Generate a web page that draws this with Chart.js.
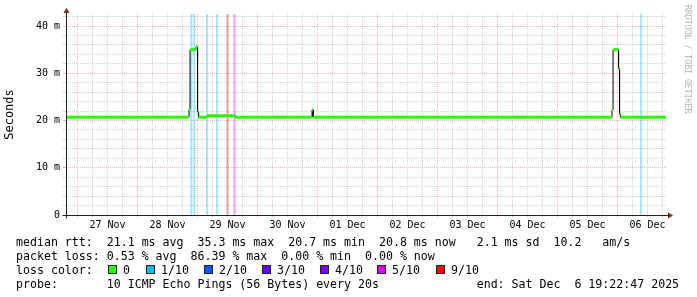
<!DOCTYPE html>
<html>
<head>
<meta charset="utf-8">
<script src="https://cdn.jsdelivr.net/npm/chart.js@4.4.0/dist/chart.umd.min.js"></script>
<style>
  html, body { margin: 0; padding: 0; background: #fff; }
  #wrap { position: relative; width: 697px; height: 297px; overflow: hidden; background: #fff; }
  #graph { position: absolute; left: 0; top: 0; }
  .row { position: absolute; left: 16px; font: 11.6px "DejaVu Sans Mono", monospace; color: #000; white-space: pre; line-height: 14px; }
  .box { position: absolute; width: 9px; height: 9px; box-sizing: border-box; border: 1px solid #222; }
  .lbl { position: absolute; font: 11.6px "DejaVu Sans Mono", monospace; line-height: 14px; white-space: pre; }
  #mark { position: absolute; left: 683px; top: 5px; writing-mode: vertical-rl; font: 8.2px "DejaVu Sans Mono", monospace; color: #b4b4b4; white-space: pre; }
</style>
</head>
<body>
<div id="wrap">
  <canvas id="graph" width="697" height="297"></canvas>
  <div id="mark">RRDTOOL / TOBI OETIKER</div>
  <div class="row" style="top:235px">median rtt:  21.1 ms avg  35.3 ms max  20.7 ms min  20.8 ms now   2.1 ms sd  10.2   am/s</div>
  <div class="row" style="top:249px">packet loss: 0.53 % avg  86.39 % max  0.00 % min  0.00 % now</div>
  <div class="row" style="top:263px">loss color:</div>
  <div class="row" style="top:277px">probe:       10 ICMP Echo Pings (56 Bytes) every 20s              end: Sat Dec  6 19:22:47 2025</div>
</div>
<script>
// time axis is in hours counted from 26 Nov 00:00
const startHour = 19.38;   // 26 Nov 19:22:47
const endHour = 259.38;    // 06 Dec 19:22:47
const yMaxMs = 42.54;

const dayLabels = ['27 Nov', '28 Nov', '29 Nov', '30 Nov', '01 Dec', '02 Dec', '03 Dec', '04 Dec', '05 Dec', '06 Dec'];

// median rtt as steps: level starts at medianStart[i] and holds until the next one
const medianStart = [19.38, 68.6, 69.0, 71.4, 72.0, 72.4, 75.8, 87.2, 117.8, 118.2, 237.8, 238.2, 240.4, 240.8, 241.2];
const medianMs    = [20.7,  22.3, 35.0, 35.6, 21.8, 20.7, 21.0, 20.7, 22.3,  20.7,  22.2,  35.0,  31.0,  21.3,  20.7];

// samples with packet loss (loss in tenths)
const lossHours = [69.5, 70.7, 75.8, 79.8, 84.0, 86.8, 249.4];
const lossLevel = [1, 1, 1, 1, 9, 5, 1];

const legendLabels = ['0', '1/10', '2/10', '3/10', '4/10', '5/10', '9/10'];
const legendLevels = [0, 1, 2, 3, 4, 5, 9];
const lossColors = {0: '#26ff00', 1: '#00b8ff', 2: '#0059ff', 3: '#5e00ff', 4: '#7e00ff', 5: '#dd00ff', 9: '#ff0000'};

function hexAlpha(hex, a) {
    const n = parseInt(hex.slice(1), 16);
    return `rgba(${n >> 16}, ${(n >> 8) & 255}, ${n & 255}, ${a})`;
}

// step outline (black) and flat median pieces (green)
const outline = [];
const flats = [];
medianStart.forEach((t, i) => {
    const next = i < medianStart.length - 1 ? medianStart[i + 1] : endHour;
    outline.push({x: t, y: medianMs[i]}, {x: next, y: medianMs[i]});
    flats.push({x: t, y: medianMs[i]}, {x: next, y: medianMs[i]}, {x: next, y: null});
});

const lossBars = lossHours.map((h) => ({x: h, y: [0, yMaxMs]}));

const GRID = 'rgba(150, 150, 150, 0.42)';
const MGRID = 'rgba(222, 79, 79, 0.42)';
const FONT = 'DejaVu Sans Mono';

const axisArrows = {
    id: 'axisArrows',
    afterDraw(chart) {
        const {ctx, chartArea: a} = chart;
        const x0 = Math.round(a.left) + 0.5;
        const y0 = Math.round(a.bottom) + 0.5;
        ctx.save();
        ctx.strokeStyle = '#1f1f1f';
        ctx.lineWidth = 1;
        ctx.beginPath();
        ctx.moveTo(x0, y0 + 3);
        ctx.lineTo(x0, a.top - 1);
        ctx.moveTo(x0 - 4, y0);
        ctx.lineTo(a.right + 3, y0);
        ctx.stroke();
        ctx.fillStyle = '#801f1f';
        ctx.beginPath();
        ctx.moveTo(x0 - 3, a.top - 1);
        ctx.lineTo(x0 + 3, a.top - 1);
        ctx.lineTo(x0, a.top - 6);
        ctx.closePath();
        ctx.fill();
        ctx.beginPath();
        ctx.moveTo(a.right + 2, y0 - 3);
        ctx.lineTo(a.right + 2, y0 + 3);
        ctx.lineTo(a.right + 7, y0);
        ctx.closePath();
        ctx.fill();
        ctx.restore();
    }
};

new Chart(document.getElementById('graph'), {
    type: 'line',
    data: {
        datasets: [{
            data: flats,
            borderColor: lossColors[0],
            borderWidth: 3,
            borderCapStyle: 'butt',
            pointRadius: 0,
            spanGaps: false,
            order: 0
        }, {
            data: outline,
            borderColor: '#000',
            borderWidth: 1,
            pointRadius: 0,
            order: 1
        }, {
            type: 'bar',
            data: lossBars,
            backgroundColor: lossLevel.map((l) => hexAlpha(lossColors[l], 0.35)),
            borderWidth: 0,
            barThickness: 1.5,
            order: 2
        }]
    },
    options: {
        responsive: false,
        devicePixelRatio: 1,
        animation: false,
        layout: {padding: {left: 0, top: 14, right: 31, bottom: 62}},
        plugins: {legend: {display: false}, tooltip: {enabled: false}},
        scales: {
            x: {
                type: 'linear',
                min: startHour,
                max: endHour,
                offset: false,
                afterBuildTicks: (scale) => {
                    const ticks = [];
                    for (let h = 24; h < endHour; h += 6) ticks.push({value: h});
                    scale.ticks = ticks;
                },
                afterFit: (scale) => { scale.height = 20; },
                ticks: {
                    autoSkip: false,
                    maxRotation: 0,
                    padding: 2,
                    color: '#000',
                    font: {family: FONT, size: 10},
                    callback: (v) => (v % 24 === 12 ? dayLabels[Math.floor(v / 24) - 1] : '')
                },
                grid: {
                    offset: false,
                    color: (c) => (c.tick && c.tick.value % 24 === 0 ? MGRID : GRID),
                    tickLength: 2
                },
                border: {display: false, dash: [1, 1]}
            },
            y: {
                min: 0,
                max: yMaxMs,
                afterBuildTicks: (scale) => {
                    const ticks = [];
                    for (let v = 0; v <= 42; v += 2) ticks.push({value: v});
                    scale.ticks = ticks;
                },
                afterFit: (scale) => { scale.width = 66; },
                ticks: {
                    autoSkip: false,
                    padding: 3,
                    color: '#000',
                    font: {family: FONT, size: 10},
                    callback: (v) => (v === 0 ? '0' : v % 10 === 0 ? v + ' m' : '')
                },
                grid: {
                    color: (c) => (c.tick && c.tick.value % 10 === 0 ? MGRID : GRID),
                    tickLength: 3
                },
                border: {display: false, dash: [1, 1]},
                title: {
                    display: true,
                    text: 'Seconds',
                    color: '#000',
                    padding: {top: 3, bottom: 0},
                    font: {family: FONT, size: 12}
                }
            }
        }
    },
    plugins: [axisArrows]
});

// loss colour legend row
const wrap = document.getElementById('wrap');
const boxLeft = [108, 146, 204, 262, 320, 377, 436];
legendLabels.forEach((txt, i) => {
    const b = document.createElement('div');
    b.className = 'box';
    b.style.left = boxLeft[i] + 'px';
    b.style.top = '265px';
    b.style.background = lossColors[legendLevels[i]];
    wrap.appendChild(b);
    const l = document.createElement('div');
    l.className = 'lbl';
    l.style.left = (boxLeft[i] + 15) + 'px';
    l.style.top = '263px';
    l.textContent = txt;
    wrap.appendChild(l);
});
</script>
</body>
</html>
